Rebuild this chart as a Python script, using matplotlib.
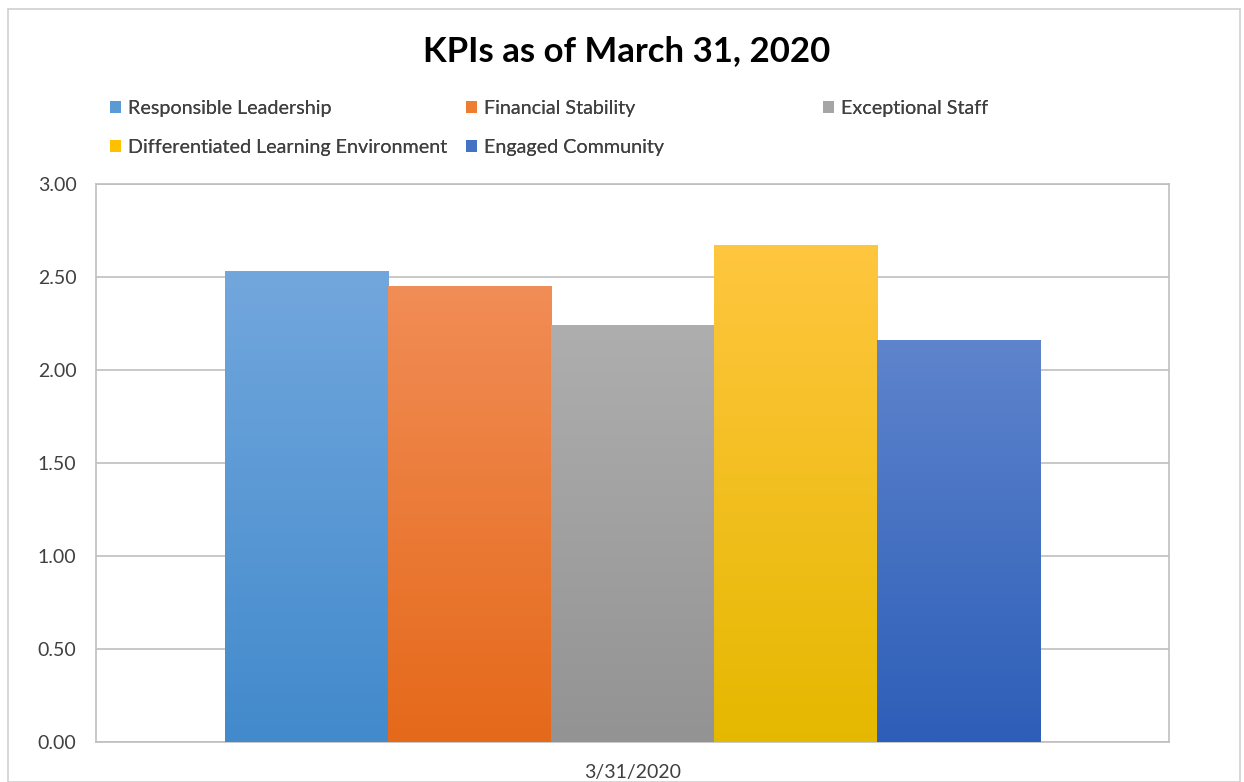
import matplotlib
matplotlib.use("Agg")
import numpy as np
import matplotlib.pyplot as plt
from matplotlib.patches import Rectangle
from matplotlib.colors import LinearSegmentedColormap

plt.rcParams['font.family'] = ['Lato', 'DejaVu Sans']

# Data
category = "3/31/2020"
series = ["Responsible Leadership", "Financial Stability", "Exceptional Staff",
          "Differentiated Learning Environment", "Engaged Community"]
values = [2.53, 2.45, 2.24, 2.67, 2.16]
top_colors = ["#72A7DD", "#F18D56", "#AEAEAE", "#FFC63F", "#5E84CC"]
bottom_colors = ["#428ACC", "#E5691A", "#939393", "#E5B800", "#2D5EB8"]
legend_colors = ["#5B9BD5", "#ED7D31", "#A5A5A5", "#FFC000", "#4472C4"]
text_color = "#404040"

fig = plt.figure(figsize=(12.44, 7.82), dpi=100)
ax = fig.add_axes([96 / 1244, 1 - 742 / 782, (1169 - 96) / 1244, (742 - 184) / 782])

# outer chart border
fig.patches.append(Rectangle((8 / 1244, 0), 1 - 12 / 1244, 1 - 9 / 782,
                             transform=fig.transFigure, fill=False,
                             edgecolor="#D0D0D0", linewidth=1.2))

ax.set_xlim(-0.5, 0.5)
ax.set_ylim(0, 3)
yt = np.arange(0, 3.01, 0.5)
ax.set_yticks(yt)
ax.set_yticklabels([f"{v:.2f}" for v in yt], fontsize=14, color=text_color)
ax.set_xticks([0])
ax.set_xticklabels([category], fontsize=14, color=text_color)
ax.tick_params(axis="y", length=0, pad=14)
ax.tick_params(axis="x", length=0, pad=16)
ax.yaxis.grid(True, color="#BFBFBF", linewidth=1.2)
ax.set_axisbelow(True)
for s in ax.spines.values():
    s.set_color("#BFBFBF")
    s.set_linewidth(1.2)

width = 0.152
n = len(values)
grad = np.linspace(0, 1, 256).reshape(-1, 1)
handles = []
for i, (name, v) in enumerate(zip(series, values)):
    x0 = (i - (n - 1) / 2) * width - width / 2
    cmap = LinearSegmentedColormap.from_list(f"g{i}", [bottom_colors[i], top_colors[i]])
    bar = ax.bar(x0 + width / 2, v, width=width, color=legend_colors[i],
                 linewidth=0, label=name, zorder=2)
    im = ax.imshow(grad, extent=[x0, x0 + width, 0, v], origin="lower",
                   cmap=cmap, aspect="auto", zorder=3)
    im.set_clip_path(bar.patches[0])
    handles.append(bar)

ax.set_xlim(-0.5, 0.5)
ax.set_ylim(0, 3)

# legend laid out as Excel does: 3 equal columns, filled row by row
columns = [[0, 3], [1, 4], [2]]
col_x = [102, 458, 815]
for cx, idx in zip(col_x, columns):
    leg = fig.legend([handles[k] for k in idx], [series[k] for k in idx],
                     loc="upper left", bbox_to_anchor=(cx / 1244, 1 - 92 / 782),
                     frameon=False, fontsize=14.2, handlelength=0.55, handleheight=0.55,
                     handletextpad=0.35, labelspacing=1.1, borderaxespad=0,
                     labelcolor=text_color)
    fig.add_artist(leg)

fig.text(627 / 1244, 1 - 51 / 782, "KPIs as of March 31, 2020",
         ha="center", va="center", fontsize=25, fontweight="bold")

fig.savefig("out.png", dpi=100)
